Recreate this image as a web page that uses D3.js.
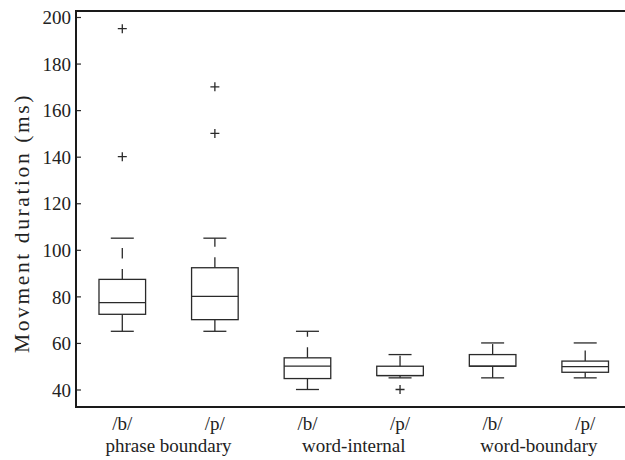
<!DOCTYPE html>
<html><head><meta charset="utf-8">
<script src="https://cdn.jsdelivr.net/npm/d3@7"></script>
<style>body{margin:0;background:#fff}svg{display:block}text{font-family:"Liberation Serif","Times New Roman",serif;fill:#222}</style>
</head><body>
<svg id="c" width="625" height="460"></svg>
<script>
const categories = ["/b/", "/p/", "/b/", "/p/", "/b/", "/p/"];
const groups = ["phrase boundary", "word-internal", "word-boundary"];
const lowerWhisker = [65, 65, 40, 45, 45, 45];
const q1 = [72.3, 70, 44.7, 46, 50, 47.4];
const median = [77.3, 80, 50, 46, 50, 49.8];
const q3 = [87.3, 92.3, 53.6, 50, 55, 52.2];
const upperWhisker = [105, 105, 65, 55, 60, 60];
const outliers = [[195, 140], [170, 150], [], [40], [], []];
const yTicks = [40, 60, 80, 100, 120, 140, 160, 180, 200];
const yLabel = "Movment duration (ms)";

const svg = d3.select("#c");
const x = d3.scaleLinear().domain([0.5, 6.5]).range([76, 631.5]);
const y = d3.scaleLinear().domain([40, 200]).range([389.5, 17]);
const y0 = y.invert(407), y1 = y.invert(11);

const ink = "#2a2a2a";
const halfW = 23.3;
const capW = 11.5;

const g = svg.append("g");
categories.forEach((c, i) => {
  const cx = x(i + 1);
  g.append("line").attr("x1", cx).attr("x2", cx).attr("y1", y(q3[i])).attr("y2", y(upperWhisker[i]))
    .attr("stroke", ink).attr("stroke-width", 1.3).attr("stroke-dasharray", "10.5,10.5");
  g.append("line").attr("x1", cx).attr("x2", cx).attr("y1", y(q1[i])).attr("y2", y(lowerWhisker[i]))
    .attr("stroke", ink).attr("stroke-width", 1.3);
  [upperWhisker[i], lowerWhisker[i]].forEach(v => {
    g.append("line").attr("x1", cx - capW).attr("x2", cx + capW).attr("y1", y(v)).attr("y2", y(v))
      .attr("stroke", ink).attr("stroke-width", 1.3);
  });
  g.append("rect").attr("x", cx - halfW).attr("width", 2 * halfW)
    .attr("y", y(q3[i])).attr("height", y(q1[i]) - y(q3[i]))
    .attr("fill", "none").attr("stroke", ink).attr("stroke-width", 1.3);
  g.append("line").attr("x1", cx - halfW).attr("x2", cx + halfW).attr("y1", y(median[i])).attr("y2", y(median[i]))
    .attr("stroke", ink).attr("stroke-width", 1.3);
  outliers[i].forEach(v => {
    const py = y(v);
    g.append("path").attr("d", `M${cx - 4.5},${py}H${cx + 4.5}M${cx},${py - 4.5}V${py + 4.5}`)
      .attr("stroke", ink).attr("stroke-width", 1.3).attr("fill", "none");
  });
  svg.append("text").attr("x", cx).attr("y", 430).attr("text-anchor", "middle")
    .attr("font-size", 19).text(c);
});

groups.forEach((t, k) => {
  const gx = (x(2 * k + 1) + x(2 * k + 2)) / 2;
  svg.append("text").attr("x", gx).attr("y", 452).attr("text-anchor", "middle")
    .attr("font-size", 19).text(t);
});

const yAxis = d3.axisRight(y).tickValues(yTicks).tickSize(5).tickFormat(d3.format("d"));
const ya = svg.append("g").attr("transform", "translate(76,0)").call(yAxis);
ya.select(".domain").remove();
ya.selectAll(".tick line").attr("stroke", ink).attr("stroke-width", 1.2);
ya.selectAll(".tick text").attr("x", -5).attr("text-anchor", "end").attr("font-size", 19)
  .attr("font-family", "Liberation Serif").attr("fill", "#222").attr("dy", "0.35em");

svg.append("path").attr("d", `M${x(6.5)},${y(y1)}H76V${y(y0)}H${x(6.5)}`)
  .attr("fill", "none").attr("stroke", "#1a1a1a").attr("stroke-width", 2);

svg.append("text").attr("transform", `translate(29,223) rotate(-90)`)
  .attr("text-anchor", "middle").attr("font-size", 21.5).attr("letter-spacing", 2.6).text(yLabel);
</script>
</body></html>
